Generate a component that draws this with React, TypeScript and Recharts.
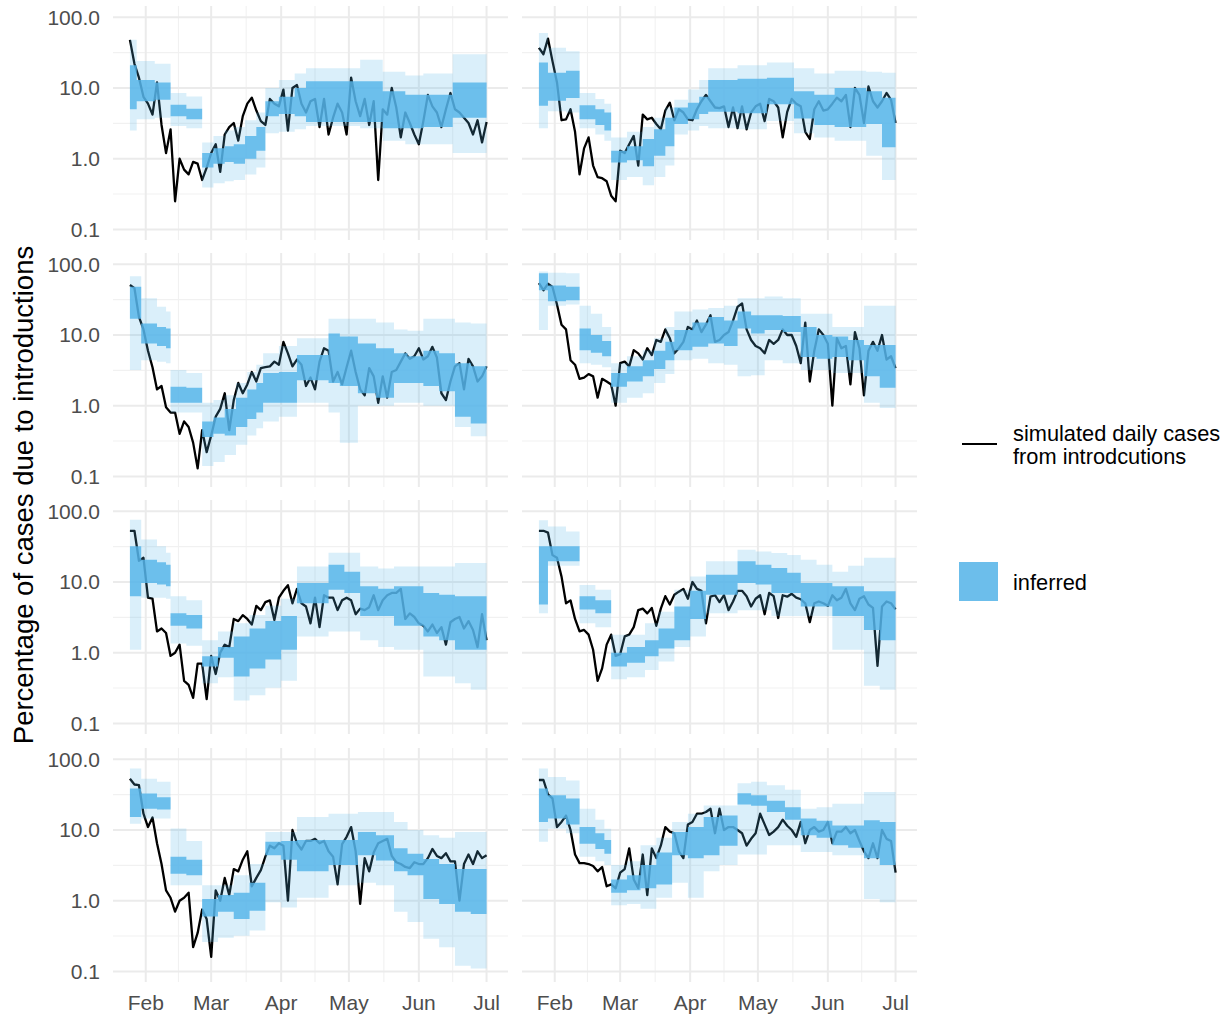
import React from "react";
import { ComposedChart, Area, XAxis, YAxis, CartesianGrid } from "recharts";

// days are counted from 1 Jan 2020 (= 0); simulated series is sampled every 2 days
const SIM_START = 24;
const SIM_STEP = 2;
const LAST_DAY = 182;

const monthTicks = [31, 60, 91, 121, 152, 182];
const monthLabels = ["Feb", "Mar", "Apr", "May", "Jun", "Jul"];
const midMonthLines = [45.5, 75.5, 106, 136.5, 167];
const yTicks = [0.1, 1, 10, 100];
const yMinorLines = [0.316, 3.16, 31.6];

// ---- panel 1 (top left)
const sim1 = [48, 22, 14, 7.5, 6, 4.2, 12, 3.0, 1.2, 2.6, 0.25, 1.0, 0.7, 0.6, 0.9, 0.85, 0.5, 0.75, 1.2, 1.6, 0.65, 2.2, 2.8, 3.2, 1.8, 4, 6, 7.3, 4.8, 3.4, 3.0, 7, 6, 5.5, 9.5, 2.5, 10, 11, 6, 4.5, 6.5, 7, 2.8, 7, 2.2, 3.8, 6, 4.5, 2.2, 14, 6.5, 4, 7, 3, 6.5, 0.5, 5, 4.2, 10, 5.3, 2, 4.5, 3.2, 2.2, 1.6, 3.4, 8, 5.5, 4.5, 2.8, 5, 8.5, 5, 4.5, 3.8, 3.2, 2.2, 3.5, 1.7, 3.3];
const days1 = [24, 27, 35, 42, 49, 56, 61, 66, 70, 75, 80, 84, 90, 97, 102, 126, 136, 146, 154, 167];
const lo95_1 = [2.5, 3.6, 3.8, 2.9, 2.7, 0.39, 0.45, 0.48, 0.5, 0.6, 0.75, 2.3, 2.4, 2.6, 2.9, 2.7, 1.8, 1.6, 1.6, 1.2];
const lo50_1 = [5.0, 6.5, 6.8, 4.0, 3.6, 0.75, 0.85, 0.9, 0.85, 1.0, 1.3, 4.0, 4.3, 4.0, 3.3, 3.3, 2.7, 2.7, 2.8, 3.8];
const hi50_1 = [21, 13, 12, 5.8, 5.1, 1.2, 1.4, 1.5, 1.6, 2.1, 2.8, 6.5, 7.5, 10, 12.5, 12.5, 9, 8, 8, 12];
const hi95_1 = [48, 24, 22, 8.5, 7.6, 1.7, 2.1, 2.5, 2.8, 3.5, 4.5, 10, 13, 16, 19, 25, 17, 15, 16, 30];

// ---- panel 2 (top right)
const sim2 = [37, 30, 50, 24, 12, 3.5, 3.6, 5, 2.4, 0.6, 1.4, 2.0, 0.8, 0.55, 0.53, 0.48, 0.3, 0.25, 1.3, 1.2, 1.6, 2.1, 0.8, 4.2, 3.6, 3.8, 3.1, 2.6, 4.8, 6.2, 3.5, 5, 4.5, 3.6, 3.5, 5, 6.5, 8, 6.5, 5.3, 5.2, 5.5, 2.8, 5.3, 2.7, 5.5, 2.6, 4.5, 5.5, 6, 3.4, 7, 6.5, 5.3, 2.0, 4.6, 7, 6, 5.5, 2.4, 1.9, 5, 6.5, 4.8, 5, 6, 7.3, 6.5, 8, 2.8, 10, 8, 3.2, 10.5, 6.5, 5.3, 6.5, 8.5, 6.8, 3.2];
const days2 = [24, 28, 36, 42, 49, 53, 56, 63, 70, 75, 80, 84, 90, 95, 99, 112, 125, 137, 146, 155, 169, 176];
const lo95_2 = [2.7, 4.7, 4.5, 2.7, 2.2, 1.8, 0.5, 0.55, 0.42, 0.55, 0.8, 2.2, 2.5, 2.9, 2.7, 2.6, 3.4, 2.3, 2.0, 1.8, 1.1, 0.5];
const lo50_2 = [5.6, 6.6, 7.2, 3.6, 3.0, 2.5, 0.88, 0.95, 0.78, 1.1, 1.5, 3.1, 3.6, 4.3, 4.6, 4.4, 5.9, 3.7, 3.0, 2.8, 3.1, 1.45];
const hi50_2 = [23, 16.5, 17.5, 5.7, 5.0, 4.5, 1.3, 1.5, 1.9, 2.6, 3.8, 5.3, 6.2, 7.5, 13, 13.5, 14, 9, 8, 10, 9, 7.3];
const hi95_2 = [60, 37, 33, 8.5, 7.0, 6.0, 2.0, 2.4, 2.8, 3.8, 5.3, 6.8, 9.5, 13, 19, 21, 23, 19, 16, 17.5, 17, 16.5];

// ---- panel 3
const sim3 = [51, 46, 18, 12, 6, 3.5, 1.7, 1.9, 0.95, 0.8, 0.8, 0.4, 0.6, 0.5, 0.3, 0.13, 0.45, 0.22, 0.38, 0.7, 0.9, 1.5, 0.45, 1.2, 2.1, 1.5, 2.0, 3.0, 2.2, 3.4, 3.5, 3.6, 4.2, 3.8, 8, 5.5, 3.6, 4.5, 3.8, 1.9, 2.5, 1.7, 4.2, 6.5, 6, 2.2, 3, 2.0, 3.5, 6, 3, 1.7, 1.4, 3.4, 2.6, 1.1, 2.6, 1.3, 3, 3.2, 4.2, 5.5, 4.6, 5, 6.5, 4.5, 5, 6.8, 4.8, 1.5, 1.2, 2.2, 3.6, 4, 1.7, 4.6, 3.6, 2.2, 2.6, 3.6];
const days3 = [24, 29, 36, 40, 42, 49, 56, 61, 66, 71, 76, 80, 83, 90, 98, 112, 117, 125, 133, 141, 147, 154, 161, 168, 175];
const lo95_3 = [3.2, 4.4, 4.2, 4.0, 0.8, 0.8, 0.14, 0.16, 0.2, 0.28, 0.38, 0.48, 0.6, 0.7, 1.1, 0.8, 0.3, 1.0, 1.0, 1.1, 1.1, 1.0, 1.0, 0.5, 0.37];
const lo50_3 = [17, 7.6, 7, 6.5, 1.1, 1.1, 0.36, 0.4, 0.38, 0.5, 0.65, 0.8, 1.1, 1.1, 2.3, 2.1, 1.9, 1.5, 1.3, 2.1, 2.1, 1.9, 1.6, 0.7, 0.56];
const hi50_3 = [48, 14.5, 13, 12.4, 1.85, 1.8, 0.6, 0.68, 0.9, 1.3, 1.7, 2.1, 2.9, 3.0, 5.2, 10.5, 9.5, 7.6, 6.5, 5.5, 5, 6, 5.5, 4.0, 3.6];
const hi95_3 = [68, 33, 25, 21.5, 3.2, 2.9, 1.1, 1.2, 1.4, 2.1, 3.0, 3.8, 5.5, 7, 9, 17, 17, 17, 15, 12, 11.5, 17, 17, 15, 14.5];

// ---- panel 4
const sim4 = [54, 43, 53, 48, 27, 14, 12, 4.4, 3.8, 2.4, 2.5, 2.8, 2.6, 1.3, 2.4, 2.2, 2.0, 1.0, 4.0, 4.2, 3.6, 6.1, 5.5, 4.5, 6.5, 5.2, 8.5, 8, 12, 9, 5.5, 6.5, 8, 13, 12, 16, 11, 14, 19, 8, 8.5, 10, 11, 16, 25, 28, 12, 8.5, 7, 6.5, 5.5, 8.5, 7.5, 8.5, 12, 10, 10, 7, 4, 15, 2.2, 6, 12, 10, 7.5, 1.0, 9, 6.5, 7, 2.0, 11, 6.5, 1.4, 6, 8, 6, 10, 4.5, 5, 3.4];
const days4 = [24, 28, 36, 42, 47, 52, 56, 63, 70, 75, 80, 84, 92, 99, 106, 112, 118, 124, 132, 140, 147, 154, 161, 168, 175];
const lo95_4 = [11.8, 26, 27, 4.0, 3.8, 3.5, 1.1, 1.3, 1.5, 2.1, 2.8, 4.4, 4.6, 4.0, 3.8, 2.6, 2.7, 4.4, 4.0, 3.2, 3.2, 2.9, 2.9, 1.1, 0.93];
const lo50_4 = [43, 30, 31, 6.1, 5.6, 5.0, 1.85, 2.2, 2.6, 3.3, 4.4, 6.1, 6.8, 7.6, 7, 12.4, 10.5, 11.8, 11, 4.9, 4.6, 4.9, 4.4, 2.6, 1.8];
const hi50_4 = [75, 50, 48, 12.4, 10, 8.2, 2.9, 3.6, 4.4, 6, 8, 11.8, 15, 18, 16, 21.5, 19, 19, 18.5, 13, 10, 9.5, 8.5, 7.2, 7.2];
const hi95_4 = [79, 76, 75, 26, 20, 13, 4.0, 5, 6.1, 9, 13, 21.5, 23, 24, 26, 33, 33, 35, 33, 20, 20, 13, 13, 26, 26];

// ---- panel 5
const sim5 = [53, 53, 20, 22, 6, 5.8, 2.0, 2.2, 1.9, 0.9, 1.0, 1.3, 0.4, 0.35, 0.23, 0.7, 0.7, 0.22, 0.9, 0.5, 1.0, 1.3, 1.2, 3.0, 2.8, 3.4, 3.0, 2.5, 4.6, 4, 5.2, 5.5, 2.9, 6, 7.5, 9, 5, 8, 5, 4.5, 2.6, 6, 2.3, 6.5, 6, 6, 4, 5.5, 6, 5.5, 3.5, 4.2, 4, 4.4, 6.5, 4, 5.5, 6.5, 7, 7, 8, 3, 3.6, 3.2, 2.6, 2.4, 2, 2.5, 1.9, 2.3, 1.3, 2.7, 3, 3.2, 2.2, 2.8, 2.1, 1.2, 3.5, 1.5];
const days5 = [24, 29, 36, 40, 42, 49, 56, 63, 70, 77, 84, 91, 98, 112, 119, 126, 134, 141, 154, 161, 168, 175];
const lo95_5 = [1.1, 6.0, 6.0, 5.8, 1.35, 1.25, 0.37, 0.45, 0.21, 0.25, 0.32, 0.4, 1.7, 2.0, 2.0, 1.5, 1.2, 1.1, 0.46, 0.46, 0.37, 0.3];
const lo50_5 = [6.3, 9.7, 9.2, 8.7, 2.4, 2.2, 0.64, 0.85, 0.46, 0.6, 0.8, 1.1, 5.0, 7.8, 7.0, 3.3, 3.3, 2.4, 1.7, 1.5, 1.1, 1.1];
const hi50_5 = [32, 20.7, 19, 17.6, 3.6, 3.4, 0.89, 1.2, 1.7, 2.2, 2.8, 3.3, 9.7, 17.6, 14, 8.7, 8, 8.7, 7, 6.6, 6.3, 6.3];
const hi95_5 = [76, 40, 32, 26, 6.3, 5.5, 1.5, 2.0, 2.6, 3.4, 4.6, 5.8, 16.6, 26, 26, 16.6, 15.5, 16.6, 16.6, 16.6, 18.6, 18.6];

// ---- panel 6
const sim6 = [53, 53, 50, 24, 22, 12, 5, 5.5, 3.0, 2.0, 2.1, 1.8, 1.1, 0.4, 0.6, 1.3, 1.8, 0.9, 0.95, 1.7, 1.8, 2.3, 4.0, 4.2, 3.6, 4.3, 2.4, 4.2, 6.3, 4.8, 6.6, 7.3, 8, 5.8, 10, 8, 7.5, 2.6, 6.2, 6.5, 5.2, 6.5, 4, 5.3, 7.5, 7.5, 6.3, 4.5, 5.8, 6.5, 3.5, 7, 6.3, 3.1, 6.5, 6.2, 6.8, 6, 5.7, 5, 2.7, 5, 5.3, 5, 4.6, 6.5, 5.5, 6, 8, 5, 4, 5.8, 6.3, 4.8, 4.3, 0.65, 4.5, 5.3, 5, 4.1];
const days6 = [24, 28, 36, 42, 49, 56, 63, 71, 77, 84, 91, 98, 112, 120, 127, 134, 140, 147, 154, 161, 168, 175];
const lo95_6 = [3.6, 17, 17, 2.6, 2.3, 0.42, 0.45, 0.57, 0.75, 1.2, 1.7, 3.6, 4.0, 4.0, 3.3, 3.3, 3.3, 3.3, 1.1, 1.1, 0.34, 0.3];
const lo50_6 = [4.8, 19.6, 19.6, 4.1, 3.6, 0.64, 0.72, 0.89, 1.15, 1.5, 3.0, 6.6, 9.7, 9.2, 7.0, 7.0, 4.5, 4.5, 3.3, 3.3, 2.1, 1.5];
const hi50_6 = [32, 32, 32, 6.3, 5.5, 1.0, 1.2, 1.5, 2.2, 4.5, 7.5, 12.7, 19.6, 17.5, 15.8, 13.5, 9.7, 9.7, 8.7, 8.7, 7.4, 7.4];
const hi95_6 = [75, 61, 52, 9.1, 7.8, 1.8, 1.8, 2.6, 3.8, 7.8, 12, 19.6, 28.6, 27, 25.7, 24, 20.7, 17.5, 14, 17, 22, 22];

// ---- panel 7
const sim7 = [53, 44, 43, 17, 11, 15, 6.5, 3.3, 1.4, 1.1, 0.7, 1.0, 1.1, 1.3, 0.22, 0.35, 0.75, 0.55, 0.16, 1.4, 1.0, 2.1, 1.2, 2.8, 2.6, 3.8, 5, 1.6, 2.1, 2.7, 4.2, 6, 5.5, 6.5, 6, 1.0, 10, 6.5, 5.3, 7, 7, 7.5, 6.5, 7, 5, 4.2, 1.7, 6.3, 8, 11, 5, 0.9, 4, 2.6, 4.8, 6.5, 7, 7.5, 4.3, 3.5, 3.3, 3.0, 2.9, 3.5, 3.3, 3.3, 4, 5.4, 4.3, 4, 4.7, 3.6, 3.6, 1.0, 3.3, 4.5, 3.3, 5, 4, 4.4];
const days7 = [24, 29, 36, 42, 49, 56, 63, 70, 77, 84, 91, 98, 112, 125, 133, 141, 147, 154, 161, 168, 175];
const lo95_7 = [12.3, 14.5, 14.5, 1.65, 1.65, 0.26, 0.3, 0.32, 0.38, 0.95, 0.8, 1.1, 1.65, 1.8, 1.65, 0.7, 0.5, 0.29, 0.22, 0.12, 0.11];
const lo50_7 = [15.3, 20, 19.5, 2.4, 2.3, 0.6, 0.7, 0.55, 0.72, 4.4, 3.8, 2.6, 3.2, 4.4, 3.7, 2.6, 2.3, 1.06, 0.9, 0.7, 0.65];
const hi50_7 = [38.5, 32.7, 29, 4.2, 3.8, 1.06, 1.2, 1.3, 1.8, 6.8, 7, 7.2, 7.2, 9.4, 8.4, 5.5, 4.6, 3.9, 3.3, 2.8, 2.8];
const hi95_7 = [74, 53, 48, 10.5, 7, 1.65, 1.65, 2.3, 3.3, 9.4, 9.4, 15.3, 17, 18, 18, 13, 10, 8.4, 7.8, 9.4, 9.4];

// ---- panel 8 (bottom right)
const sim8 = [51, 51, 32, 28, 11, 13, 16, 10, 4.5, 3.4, 3.4, 3.3, 3.1, 2.6, 3.0, 1.6, 1.7, 1.5, 2.5, 2.8, 5.5, 2.0, 1.5, 4.5, 1.2, 5.5, 4, 6, 11, 9.5, 9, 5, 4, 12, 13, 17, 17, 18, 20, 9, 20, 10, 11, 11, 10, 9, 6, 7.5, 9, 17, 12, 8.5, 9.5, 11, 14, 11.5, 10, 8, 13, 6.5, 10, 11, 9.5, 10, 13, 6.5, 9.5, 9.5, 11, 9, 10, 7, 5, 4, 6.5, 4, 10, 7.5, 7, 2.5];
const days8 = [24, 28, 36, 42, 49, 53, 56, 63, 69, 76, 83, 90, 97, 104, 112, 118, 125, 133, 140, 147, 154, 161, 168, 175];
const lo95_8 = [6.8, 10.4, 9, 4.2, 3.6, 3.2, 0.86, 0.9, 0.77, 1.1, 1.8, 1.1, 2.6, 3.2, 4.5, 4.5, 6.1, 6.1, 4.9, 4.9, 4.4, 4.4, 1.06, 0.95];
const lo50_8 = [13, 14.5, 12, 6.4, 5.4, 4.6, 1.3, 1.4, 1.5, 1.7, 4.4, 4.0, 4.4, 6, 23, 22, 18, 14, 8.4, 7.8, 6.1, 5.6, 4.0, 3.2];
const hi50_8 = [38.5, 31, 28, 11, 9, 7.2, 2.0, 2.3, 3.2, 4.8, 9.4, 11, 15.3, 16, 33, 31, 26, 21, 14.5, 13.5, 11.6, 11.6, 13.7, 13];
const hi95_8 = [74, 56, 50, 20, 14, 10.4, 3.2, 3.6, 6.1, 7.8, 13, 17, 22.3, 22.3, 46, 48, 43, 37, 20, 21, 23.6, 23.6, 34.6, 34.6];

type PanelData = {
  sim: number[];
  days: number[];
  lo95: number[];
  lo50: number[];
  hi50: number[];
  hi95: number[];
};

const panels: PanelData[] = [
  { sim: sim1, days: days1, lo95: lo95_1, lo50: lo50_1, hi50: hi50_1, hi95: hi95_1 },
  { sim: sim2, days: days2, lo95: lo95_2, lo50: lo50_2, hi50: hi50_2, hi95: hi95_2 },
  { sim: sim3, days: days3, lo95: lo95_3, lo50: lo50_3, hi50: hi50_3, hi95: hi95_3 },
  { sim: sim4, days: days4, lo95: lo95_4, lo50: lo50_4, hi50: hi50_4, hi95: hi95_4 },
  { sim: sim5, days: days5, lo95: lo95_5, lo50: lo50_5, hi50: hi50_5, hi95: hi95_5 },
  { sim: sim6, days: days6, lo95: lo95_6, lo50: lo50_6, hi50: hi50_6, hi95: hi95_6 },
  { sim: sim7, days: days7, lo95: lo95_7, lo50: lo50_7, hi50: hi50_7, hi95: hi95_7 },
  { sim: sim8, days: days8, lo95: lo95_8, lo50: lo50_8, hi50: hi50_8, hi95: hi95_8 },
];

const X_DOMAIN: [number, number] = [16.5, 191.5];
const Y_DOMAIN: [number, number] = [0.0708, 144.5];
const PLOT_W = 395;
const PLOT_H = 234;
const Y_AXIS_W = 90;
const X_AXIS_H = 40;
const BLUE = "#56B4E9";
const TICK_STYLE = { fontSize: 21, fill: "#4D4D4D" };

// one row per day that has a simulated value or a change of the inferred band
function buildRows(p: PanelData) {
  const set = new Set<number>();
  p.sim.forEach((_, i) => set.add(SIM_START + i * SIM_STEP));
  p.days.forEach((d) => set.add(d));
  set.add(LAST_DAY);
  const ts = Array.from(set).sort((a, b) => a - b);
  let k = 0;
  return ts.map((t) => {
    while (k + 1 < p.days.length && p.days[k + 1] <= t) k++;
    const i = (t - SIM_START) / SIM_STEP;
    return {
      t,
      sim: Number.isInteger(i) && i < p.sim.length ? p.sim[i] : null,
      outer: [p.lo95[k], p.hi95[k]],
      inner: [p.lo50[k], p.hi50[k]],
    };
  });
}

function Panel({ data, showX, showY }: { data: PanelData; showX: boolean; showY: boolean }) {
  const rows = buildRows(data);
  return (
    <ComposedChart
      width={PLOT_W + (showY ? Y_AXIS_W : 0)}
      height={PLOT_H + (showX ? X_AXIS_H : 0)}
      data={rows}
      margin={{ top: 0, right: 0, bottom: 0, left: 0 }}
    >
      <XAxis
        dataKey="t"
        type="number"
        domain={X_DOMAIN}
        allowDataOverflow
        ticks={monthTicks}
        interval={0}
        tickFormatter={(v: number) => monthLabels[monthTicks.indexOf(v)]}
        hide={!showX}
        height={X_AXIS_H}
        axisLine={false}
        tickLine={false}
        tickSize={0}
        tickMargin={13}
        tick={TICK_STYLE}
      />
      <YAxis
        type="number"
        scale="log"
        domain={Y_DOMAIN}
        allowDataOverflow
        ticks={yTicks}
        interval={0}
        tickFormatter={(v: number) => v.toFixed(1)}
        hide={!showY}
        width={Y_AXIS_W}
        axisLine={false}
        tickLine={false}
        tickSize={0}
        tickMargin={13}
        tick={TICK_STYLE}
      />
      {/* hidden axes that only carry the minor grid breaks */}
      <XAxis
        xAxisId="minor"
        dataKey="t"
        type="number"
        domain={X_DOMAIN}
        allowDataOverflow
        ticks={midMonthLines}
        interval={0}
        hide
      />
      <YAxis
        yAxisId="minor"
        type="number"
        scale="log"
        domain={Y_DOMAIN}
        allowDataOverflow
        ticks={yMinorLines}
        interval={0}
        hide
      />
      <CartesianGrid
        xAxisId="minor"
        yAxisId="minor"
        syncWithTicks
        stroke="#F1F1F1"
        strokeWidth={1.1}
      />
      <CartesianGrid syncWithTicks stroke="#EBEBEB" strokeWidth={2} />
      {/* simulated series first, so the inferred bands tint it */}
      <Area
        dataKey="sim"
        type="linear"
        stroke="#000000"
        strokeWidth={2.3}
        strokeLinejoin="round"
        fill="none"
        fillOpacity={0}
        dot={false}
        activeDot={false}
        connectNulls
        isAnimationActive={false}
      />
      <Area
        dataKey="outer"
        type="stepAfter"
        fill={BLUE}
        fillOpacity={0.22}
        stroke="none"
        activeDot={false}
        isAnimationActive={false}
      />
      <Area
        dataKey="inner"
        type="stepAfter"
        fill={BLUE}
        fillOpacity={0.83}
        stroke="none"
        activeDot={false}
        isAnimationActive={false}
      />
    </ComposedChart>
  );
}

const COL_LEFT = [113 - Y_AXIS_W, 522];
const ROW_TOP = 5.7;
const ROW_STEP = 247.33;

export default function App() {
  return (
    <div
      style={{
        position: "absolute",
        left: 0,
        top: 0,
        width: 1228,
        height: 1016,
        background: "#FFFFFF",
        overflow: "hidden",
        fontFamily: "'Liberation Sans', Arial, Helvetica, sans-serif",
      }}
    >
      {panels.map((p, i) => {
        const row = Math.floor(i / 2);
        const col = i % 2;
        return (
          <div
            key={i}
            style={{ position: "absolute", left: COL_LEFT[col], top: ROW_TOP + row * ROW_STEP }}
          >
            <Panel data={p} showX={row === 3} showY={col === 0} />
          </div>
        );
      })}
      <svg
        width={1228}
        height={1016}
        style={{ position: "absolute", left: 0, top: 0, pointerEvents: "none" }}
      >
        <text
          transform="translate(33,495) rotate(-90)"
          textAnchor="middle"
          fontSize={27.5}
          fill="#000000"
        >
          Percentage of cases due to introductions
        </text>
        <line x1={962} y1={444} x2={997} y2={444} stroke="#000000" strokeWidth={2} />
        <text x={1013} y={441} fontSize={21.8} fill="#000000">
          simulated daily cases
        </text>
        <text x={1013} y={464} fontSize={21.8} fill="#000000">
          from introdcutions
        </text>
        <rect x={959} y={562} width={39} height={39} fill="#6CBEEB" />
        <text x={1013} y={590} fontSize={21.8} fill="#000000">
          inferred
        </text>
      </svg>
    </div>
  );
}
